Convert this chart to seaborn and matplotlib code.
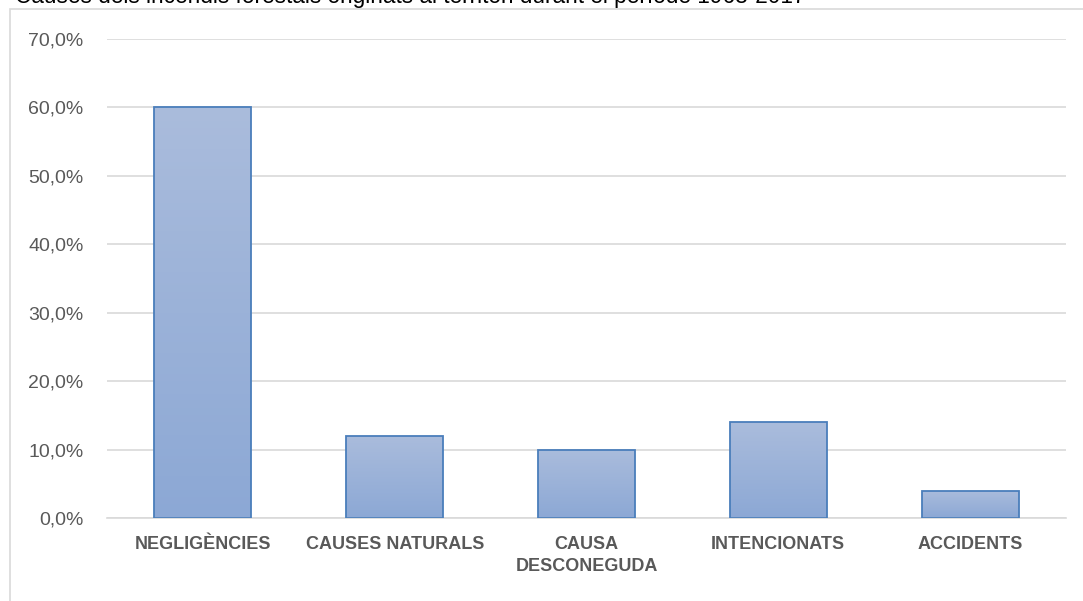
import numpy as np
import pandas as pd
import matplotlib
matplotlib.use('Agg')
import matplotlib.pyplot as plt
from matplotlib.patches import Rectangle
from matplotlib.colors import LinearSegmentedColormap
import seaborn as sns

# Chart data
categories = ['NEGLIGÈNCIES', 'CAUSES NATURALS', 'CAUSA\nDESCONEGUDA', 'INTENCIONATS', 'ACCIDENTS']
percentages = [60.0, 12.0, 10.0, 14.0, 4.0]
ytick_values = [0, 10, 20, 30, 40, 50, 60, 70]
title_text = "Causes dels incendis forestals originats al territori durant el període 1968-2017"

df = pd.DataFrame({'Causa': categories, 'Percentatge': percentages})

sns.set_theme(style='white')
plt.rcParams['font.family'] = ['Liberation Sans', 'DejaVu Sans']

fig = plt.figure(figsize=(10.83, 6.01), dpi=100)
ax = fig.add_axes([107 / 1083, 1 - 518 / 601, (1066 - 107) / 1083, (518 - 39) / 601])

sns.barplot(data=df, x='Causa', y='Percentatge', color='#9db3d9', width=0.505,
            edgecolor='#4a7ebb', linewidth=1.3, ax=ax, zorder=3)

# gradient fill for the bars
cmap = LinearSegmentedColormap.from_list('bar', ['#8ca8d5', '#aabcdc'])
grad = np.linspace(0, 1, 256).reshape(-1, 1)
for patch in ax.patches:
    x0, y0 = patch.get_x(), patch.get_y()
    w, h = patch.get_width(), patch.get_height()
    im = ax.imshow(grad, cmap=cmap, aspect='auto', origin='lower',
                   extent=[x0, x0 + w, y0, y0 + h], zorder=2.5)
    im.set_clip_path(patch)
    patch.set_facecolor('none')

ax.set_xlim(-0.5, len(categories) - 0.5)
ax.set_ylim(0, 70)
ax.set_yticks(ytick_values)
ax.set_yticklabels([f'{v:.1f}%'.replace('.', ',') for v in ytick_values])
ax.yaxis.grid(True, color='#d9d9d9', linewidth=1.2, zorder=0)
ax.set_axisbelow(True)
ax.set_xlabel('')
ax.set_ylabel('')

for side in ['top', 'right', 'left']:
    ax.spines[side].set_visible(False)
ax.spines['bottom'].set_color('#d9d9d9')
ax.spines['bottom'].set_linewidth(1.2)

ax.tick_params(axis='y', length=0, pad=17, labelsize=14, labelcolor='#595959')
ax.tick_params(axis='x', length=0, pad=13, labelsize=13, labelcolor='#595959')
for lbl in ax.get_xticklabels():
    lbl.set_fontweight('bold')
    lbl.set_linespacing(1.35)

# outer chart border
fig.patches.append(Rectangle((10 / 1083, -0.05), 1.1, 1 - 9 / 601 + 0.05,
                             transform=fig.transFigure, fill=False,
                             edgecolor='#d9d9d9', linewidth=1.2))

# title, cropped at the top edge of the image as in the source
fig.text(15 / 1083, 1 - 3 / 601, title_text, fontsize=16.3, color='black',
         va='baseline', ha='left')

fig.savefig('out.png', dpi=100)
